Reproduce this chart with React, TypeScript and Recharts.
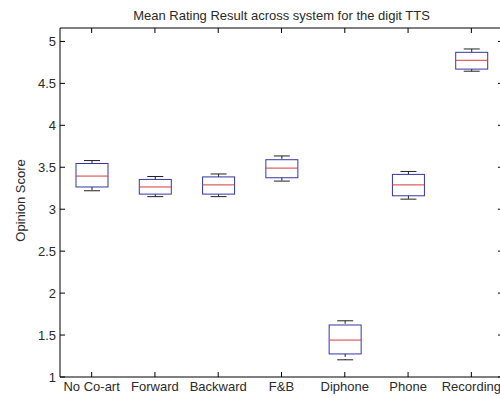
import React from 'react';
import { ComposedChart, Bar, Line, XAxis, YAxis } from 'recharts';

const categories = ['No Co-art', 'Forward', 'Backward', 'F&B', 'Diphone', 'Phone', 'Recording'];
const whiskerHigh = [3.58, 3.39, 3.42, 3.635, 1.67, 3.45, 4.91];
const upperQuartile = [3.545, 3.355, 3.385, 3.59, 1.62, 3.415, 4.87];
const medianValues = [3.395, 3.265, 3.29, 3.49, 1.44, 3.29, 4.775];
const lowerQuartile = [3.265, 3.18, 3.18, 3.375, 1.275, 3.16, 4.67];
const whiskerLow = [3.22, 3.15, 3.15, 3.335, 1.205, 3.12, 4.645];
const yTicks = [1, 1.5, 2, 2.5, 3, 3.5, 4, 4.5, 5];
const yDomain = [1, 5.16];

const data = categories.map((name, i) => ({
  name,
  range: [whiskerLow[i], whiskerHigh[i]],
  wlo: whiskerLow[i],
  whi: whiskerHigh[i],
  q1: lowerQuartile[i],
  q3: upperQuartile[i],
  med: medianValues[i],
}));

const FONT = '"Liberation Sans", Arial, Helvetica, sans-serif';
const TEXT = '#2a2a2a';

const BoxShape = (props: any) => {
  const { x, y, width, height, payload } = props;
  if (x == null || y == null) return <g />;
  const top = Math.min(y, y + height);
  const h = Math.abs(height);
  const { wlo, whi, q1, q3, med } = payload;
  const pix = (v: number) => top + (h * (whi - v)) / (whi - wlo);
  const cx = x + width / 2;
  const capHalf = width / 4;
  const yHi = pix(whi);
  const yLo = pix(wlo);
  const yQ3 = pix(q3);
  const yQ1 = pix(q1);
  const yMed = pix(med);
  return (
    <g>
      <line x1={cx} x2={cx} y1={yHi} y2={yQ3} stroke="#222" strokeDasharray="3 2" />
      <line x1={cx} x2={cx} y1={yQ1} y2={yLo} stroke="#222" strokeDasharray="3 2" />
      <line x1={cx - capHalf} x2={cx + capHalf} y1={yHi} y2={yHi} stroke="#222" />
      <line x1={cx - capHalf} x2={cx + capHalf} y1={yLo} y2={yLo} stroke="#222" />
      <rect x={x} y={yQ3} width={width} height={yQ1 - yQ3} fill="none" stroke="#3535a5" />
      <line x1={x} x2={x + width} y1={yMed} y2={yMed} stroke="#d83a3a" />
    </g>
  );
};

const EmptyTick = () => <g />;

const YLabel = (props: any) => {
  const vb = props.viewBox || {};
  const cy = (vb.y ?? 28) + (vb.height ?? 349) / 2 - 2;
  const lx = 24.5;
  return (
    <text
      x={lx}
      y={cy}
      transform={`rotate(-90, ${lx}, ${cy})`}
      textAnchor="middle"
      fontSize={13}
      fontFamily={FONT}
      fill={TEXT}
    >
      Opinion Score
    </text>
  );
};

export default function App() {
  return (
    <div
      style={{
        position: 'absolute',
        left: 0,
        top: 0,
        width: 500,
        height: 398,
        overflow: 'hidden',
        background: '#fff',
        fontFamily: FONT,
      }}
    >
      <ComposedChart
        width={510}
        height={398}
        data={data}
        margin={{ top: 26, right: 5, bottom: 0, left: 0 }}
      >
        <XAxis
          xAxisId="bottom"
          dataKey="name"
          orientation="bottom"
          height={21}
          interval={0}
          stroke="#000"
          tickSize={-5}
          tickMargin={10}
          tick={{ fill: TEXT, fontSize: 13, fontFamily: FONT }}
        />
        <XAxis
          xAxisId="top"
          dataKey="name"
          orientation="top"
          height={2}
          interval={0}
          stroke="#000"
          tickSize={-5}
          tick={EmptyTick}
        />
        <YAxis
          yAxisId="left"
          orientation="left"
          width={60}
          type="number"
          domain={yDomain}
          ticks={yTicks}
          allowDataOverflow
          stroke="#000"
          tickSize={-5}
          tickMargin={9}
          tick={{ fill: TEXT, fontSize: 13, fontFamily: FONT }}
          label={{ content: YLabel }}
        />
        <YAxis
          yAxisId="right"
          orientation="right"
          width={2}
          type="number"
          domain={yDomain}
          ticks={yTicks}
          allowDataOverflow
          stroke="#000"
          tickSize={-5}
          tick={EmptyTick}
        />
        <Bar
          xAxisId="bottom"
          yAxisId="left"
          dataKey="range"
          barSize={32}
          shape={BoxShape}
          isAnimationActive={false}
        />
        <Line
          xAxisId="top"
          yAxisId="right"
          dataKey="med"
          stroke="none"
          strokeOpacity={0}
          dot={false}
          activeDot={false}
          legendType="none"
          isAnimationActive={false}
        />
      </ComposedChart>
      <svg
        width={500}
        height={28}
        style={{ position: 'absolute', left: 0, top: 0, pointerEvents: 'none' }}
      >
        <text x={281.5} y={19.5} textAnchor="middle" fontSize={13} fontFamily={FONT} fill={TEXT}>
          Mean Rating Result across system for the digit TTS
        </text>
      </svg>
    </div>
  );
}
